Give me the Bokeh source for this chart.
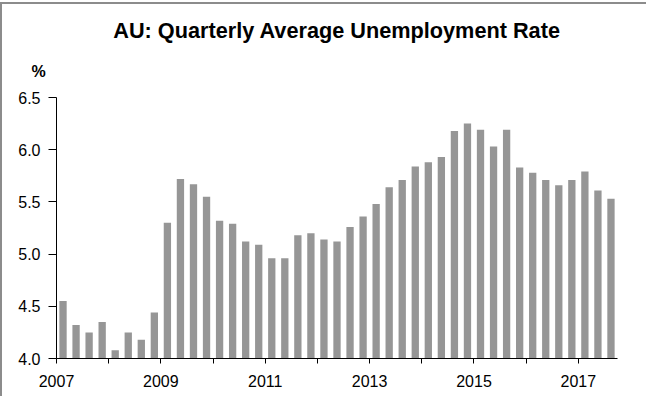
from bokeh.plotting import figure
from bokeh.models import Range1d, FixedTicker, Title, NumeralTickFormatter
from bokeh.embed import file_html
from bokeh.resources import INLINE

title_text = "AU: Quarterly Average Unemployment Rate"
unit_text = "%"

years = [2007, 2008, 2009, 2010, 2011, 2012, 2013, 2014, 2015, 2016, 2017]
quarters = [f"{y}Q{q}" for y in years for q in (1, 2, 3, 4)][:43]
rates = [
    4.55, 4.32, 4.25, 4.35,
    4.08, 4.25, 4.18, 4.44,
    5.30, 5.72, 5.67, 5.55,
    5.32, 5.29, 5.12, 5.09,
    4.96, 4.96, 5.18, 5.20,
    5.14, 5.12, 5.26, 5.36,
    5.48, 5.64, 5.71, 5.84,
    5.88, 5.93, 6.18, 6.25,
    6.19, 6.03, 6.19, 5.83,
    5.78, 5.71, 5.66, 5.71,
    5.79, 5.61, 5.53,
]
y_ticks = [4.0, 4.5, 5.0, 5.5, 6.0, 6.5]
x_tick_years = years
x_label_years = [2007, 2009, 2011, 2013, 2015, 2017]

# x position of each quarter (year units, centre of the quarter slot)
xs = [int(q[:4]) + (int(q[-1]) - 1) / 4 + 0.125 for q in quarters]

FONT = "Liberation Sans"
X0, X1 = 2007, 2007 + len(quarters) / 4
Y0, Y1 = 4.0, 6.5

p = figure(
    width=660, height=394,
    min_border_left=54, min_border_top=93, min_border_right=45, min_border_bottom=40,
    x_range=Range1d(X0, X1), y_range=Range1d(Y0, Y1),
    output_backend="svg", toolbar_location=None,
    title=None,
)
p.styles = {
    "margin-top": "2px",
    "border-left": "2px solid #8c8c8c",
    "border-top": "2px solid #8c8c8c",
}
p.outline_line_color = None
p.background_fill_color = "white"
p.border_fill_color = "white"
p.xgrid.visible = False
p.ygrid.visible = False

p.add_layout(Title(
    text=unit_text, align="left", offset=-25, standoff=35,
    text_font=FONT, text_font_size="16px", text_font_style="bold", text_color="#000000",
), "above")
p.add_layout(Title(
    text=title_text, align="center", offset=12, standoff=1,
    text_font=FONT, text_font_size="21.7px", text_font_style="bold", text_color="#000000",
), "above")

p.vbar(x=xs, top=rates, bottom=Y0, width=0.14, fill_color="#969696", line_color=None)

# axes
p.yaxis.ticker = FixedTicker(ticks=y_ticks)
p.yaxis.formatter = NumeralTickFormatter(format="0.0")
p.yaxis.major_tick_out = 8
p.yaxis.major_tick_in = 0
p.yaxis.minor_tick_line_color = None
p.yaxis.major_label_standoff = 8
p.yaxis.axis_line_color = "#000000"
p.yaxis.major_tick_line_color = "#000000"

p.xaxis.ticker = FixedTicker(ticks=x_tick_years)
p.xaxis.major_label_overrides = {y: (str(y) if y in x_label_years else "") for y in x_tick_years}
p.xaxis.major_tick_out = 5
p.xaxis.major_tick_in = 0
p.xaxis.minor_tick_line_color = None
p.xaxis.major_label_standoff = 11
p.xaxis.axis_line_color = "#000000"
p.xaxis.major_tick_line_color = "#000000"

for ax in (p.xaxis[0], p.yaxis[0]):
    ax.major_label_text_font = FONT
    ax.major_label_text_font_size = "16px"
    ax.major_label_text_color = "#000000"

open("out.html", "w").write(file_html(p, INLINE))
